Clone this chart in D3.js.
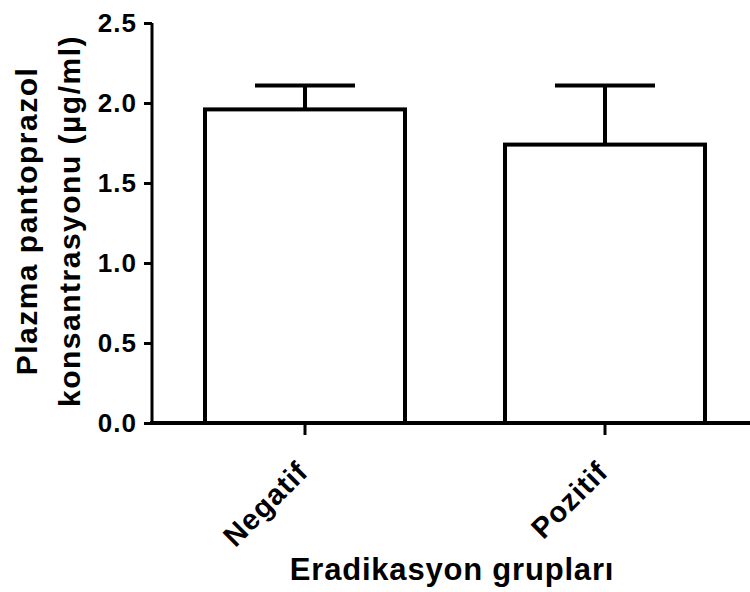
<!DOCTYPE html>
<html>
<head>
<meta charset="utf-8">
<script src="https://cdn.jsdelivr.net/npm/d3@7"></script>
<style>
  body { margin: 0; background: #fff; }
  text { font-family: "Liberation Sans", Arial, sans-serif; font-weight: bold; fill: #000; }
</style>
</head>
<body>
<div id="chart"></div>
<script>
// data
var groups = ["Negatif", "Pozitif"];
var means = [1.96, 1.74];
var errors = [0.15, 0.37];
var yTicks = [0, 0.5, 1.0, 1.5, 2.0, 2.5];

var width = 750, height = 592;

var svg = d3.select('#chart').append('svg')
    .attr('width', width)
    .attr('height', height);

// scales
var y = d3.scaleLinear().domain([0, 2.5]).range([423, 23]);
var x = d3.scaleBand().domain(groups).range([155, 755])
    .paddingInner(1 / 3).paddingOuter(1 / 6);

var data = groups.map(function (g, i) { return { g: g, m: means[i], e: errors[i] }; });

// error bars (behind the bars)
var capW = x.bandwidth() / 2;
var eb = svg.selectAll('.err').data(data).enter().append('g').attr('class', 'err');
eb.append('line')
    .attr('x1', function (d) { return x(d.g) + x.bandwidth() / 2; })
    .attr('x2', function (d) { return x(d.g) + x.bandwidth() / 2; })
    .attr('y1', function (d) { return y(d.m); })
    .attr('y2', function (d) { return y(d.m + d.e); })
    .attr('stroke', '#000').attr('stroke-width', 4);
eb.append('line')
    .attr('x1', function (d) { return x(d.g) + x.bandwidth() / 2 - capW / 2; })
    .attr('x2', function (d) { return x(d.g) + x.bandwidth() / 2 + capW / 2; })
    .attr('y1', function (d) { return y(d.m + d.e); })
    .attr('y2', function (d) { return y(d.m + d.e); })
    .attr('stroke', '#000').attr('stroke-width', 4);

// bars
svg.selectAll('.bar').data(data).enter().append('rect')
    .attr('class', 'bar')
    .attr('x', function (d) { return x(d.g); })
    .attr('y', function (d) { return y(d.m); })
    .attr('width', x.bandwidth())
    .attr('height', function (d) { return y(0) - y(d.m); })
    .attr('fill', '#fff')
    .attr('stroke', '#000')
    .attr('stroke-width', 4);

// y axis
var yAxis = svg.append('g')
    .attr('transform', 'translate(152,0)')
    .call(d3.axisLeft(y).tickValues(yTicks).tickFormat(d3.format('.1f')).tickSize(8).tickPadding(7));
yAxis.select('.domain').attr('stroke-width', 3).attr('d', 'M0,' + y(2.5) + 'V' + y(0));
yAxis.selectAll('.tick line').attr('stroke-width', 3);
yAxis.selectAll('.tick text')
    .style('font-size', '26px').style('font-family', '"Liberation Sans", Arial, sans-serif').style('font-weight', 'bold')
    .style('letter-spacing', '1px');

// x axis
var xAxis = svg.append('g')
    .attr('transform', 'translate(0,' + y(0) + ')')
    .call(d3.axisBottom(x).tickSize(12).tickSizeOuter(0));
xAxis.select('.domain').attr('stroke-width', 4).attr('d', 'M150,0H750');
xAxis.selectAll('.tick line').attr('stroke-width', 3);
xAxis.selectAll('.tick text')
    .style('font-size', '29px').style('font-family', '"Liberation Sans", Arial, sans-serif').style('font-weight', 'bold')
    .style('letter-spacing', '1px')
    .attr('text-anchor', 'end')
    .attr('dy', null)
    .attr('transform', 'translate(-10,36) rotate(-45)')
    .attr('y', 0).attr('x', 0)
    .attr('dominant-baseline', 'hanging');

// axis titles
svg.append('text')
    .attr('x', 452).attr('y', 580)
    .attr('text-anchor', 'middle')
    .style('font-size', '31px')
    .style('letter-spacing', '0.8px')
    .text('Eradikasyon grupları');

var yt = svg.append('text')
    .attr('transform', 'translate(37,221) rotate(-90)')
    .attr('text-anchor', 'middle')
    .style('font-size', '30px')
    .style('letter-spacing', '1.5px');
yt.append('tspan').attr('x', 0).attr('dy', 0).text('Plazma pantoprazol');
yt.append('tspan').attr('x', 0).attr('dy', 43).text('konsantrasyonu (µg/ml)');
</script>
</body>
</html>
